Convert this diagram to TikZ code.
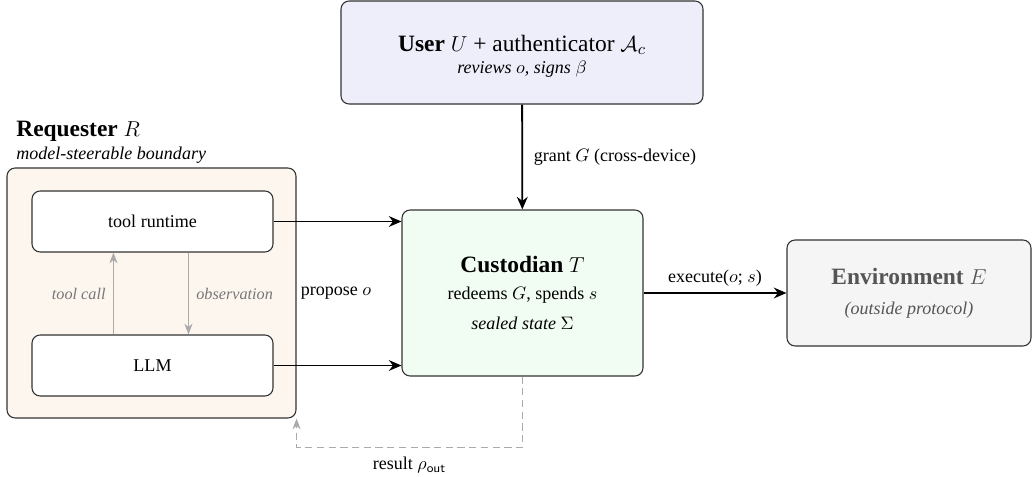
\documentclass[tikz,border=0pt]{standalone}
\usepackage{fontspec}
\setmainfont{Liberation Serif}
\usetikzlibrary{arrows.meta}
\definecolor{userfill}{HTML}{EEEEFB}
\definecolor{custfill}{HTML}{F1FCF2}
\definecolor{reqfill}{HTML}{FDF6EE}
\definecolor{envfill}{HTML}{F5F5F5}
\definecolor{envtext}{HTML}{555555}
\definecolor{glabel}{HTML}{777777}
\definecolor{garrow}{HTML}{AAAAAA}
\def\pxl{0.555pt}
\begin{document}
\begin{tikzpicture}[x=0.555pt,y=-0.555pt,
  box/.style={draw=black!80, rounded corners=4.5pt, line width=0.6pt, inner sep=0pt, align=center},
  arr/.style={-{Stealth[length=7pt,width=6pt]}, line width=1pt},
  garr/.style={-{Stealth[length=6pt,width=4.5pt]}, line width=0.8pt, draw=garrow},
  darr/.style={-{Stealth[length=6pt,width=4.5pt]}, line width=0.8pt, draw=garrow, dash pattern=on 4pt off 2.5pt},
  lbl/.style={font=\fontsize{10}{12}\selectfont, inner sep=2pt},
  glbl/.style={font=\fontsize{9}{11}\selectfont\itshape, text=glabel, inner sep=2pt}
]
\useasboundingbox (0,0) rectangle (1035,477);

% Requester outer box
\node[box, fill=reqfill, minimum width=289*\pxl, minimum height=250*\pxl] (req) at (151.5,293) {};
\node[anchor=west, inner sep=0pt, font=\fontsize{13}{15}\selectfont] (reqtitle) at (16,131) {\textbf{Requester} $R$};
\node[anchor=west, inner sep=0pt, font=\fontsize{10}{12}\selectfont\itshape] (reqsub) at (16,155) {model-steerable boundary};

\node[box, fill=white, minimum width=241*\pxl, minimum height=61*\pxl, font=\fontsize{10}{12}\selectfont] (rt) at (152.5,221.5) {tool runtime};
\node[box, fill=white, minimum width=241*\pxl, minimum height=61*\pxl, font=\fontsize{10}{12}\selectfont] (llm) at (152.5,365.5) {LLM};

\draw[garr] ([xshift=82*\pxl]llm.north west) -- node[glbl, left=2pt] {tool call} ([xshift=82*\pxl]rt.south west);
\draw[garr] ([xshift=157*\pxl]rt.south west) -- node[glbl, right=2pt] {observation} ([xshift=157*\pxl]llm.north west);

% User box
\node[box, fill=userfill, minimum width=362*\pxl, minimum height=103*\pxl] (user) at (522,52.5) {};
\node[inner sep=0pt, font=\fontsize{13}{15}\selectfont] (usertitle) at (522,45) {\textbf{User} $U$ + authenticator $\mathcal{A}_c$};
\node[inner sep=0pt, font=\fontsize{10}{12}\selectfont\itshape] (usersub) at (522,69) {reviews $o$, signs $\beta$};

% Custodian box
\node[box, fill=custfill, minimum width=241*\pxl, minimum height=166*\pxl] (cust) at (522.5,293)
  {{\fontsize{13}{15}\selectfont\textbf{Custodian} $T$}\\[3pt]
   {\fontsize{10}{12}\selectfont redeems $G$, spends $s$}\\[4.5pt]
   {\fontsize{10}{12}\selectfont\itshape sealed state $\Sigma$}};

% Environment box
\node[box, fill=envfill, minimum width=244*\pxl, minimum height=106*\pxl, text=envtext] (env) at (909,293)
  {{\fontsize{13}{15}\selectfont\textbf{Environment} $E$}\\[4.5pt]
   {\fontsize{10}{12}\selectfont\itshape (outside protocol)}};

% connectors
\draw[arr] (user) -- node[lbl, right=4pt] {grant $G$ (cross-device)} (cust);
\draw[arr] (rt.east) -- (rt.east -| cust.west);
\draw[arr] (llm.east) -- (llm.east -| cust.west);
\node[lbl] (propose) at (336,293) {propose $o$};
\draw[arr] (cust.east) -- node[lbl, above=1pt] {execute($o$; $s$)} (env.west);
\draw[darr] (cust.south) -- ++(0,71) -| node[lbl, pos=0.25, below=3pt] {result $\rho_{\mathsf{out}}$} (req.south east);
\end{tikzpicture}
\end{document}
